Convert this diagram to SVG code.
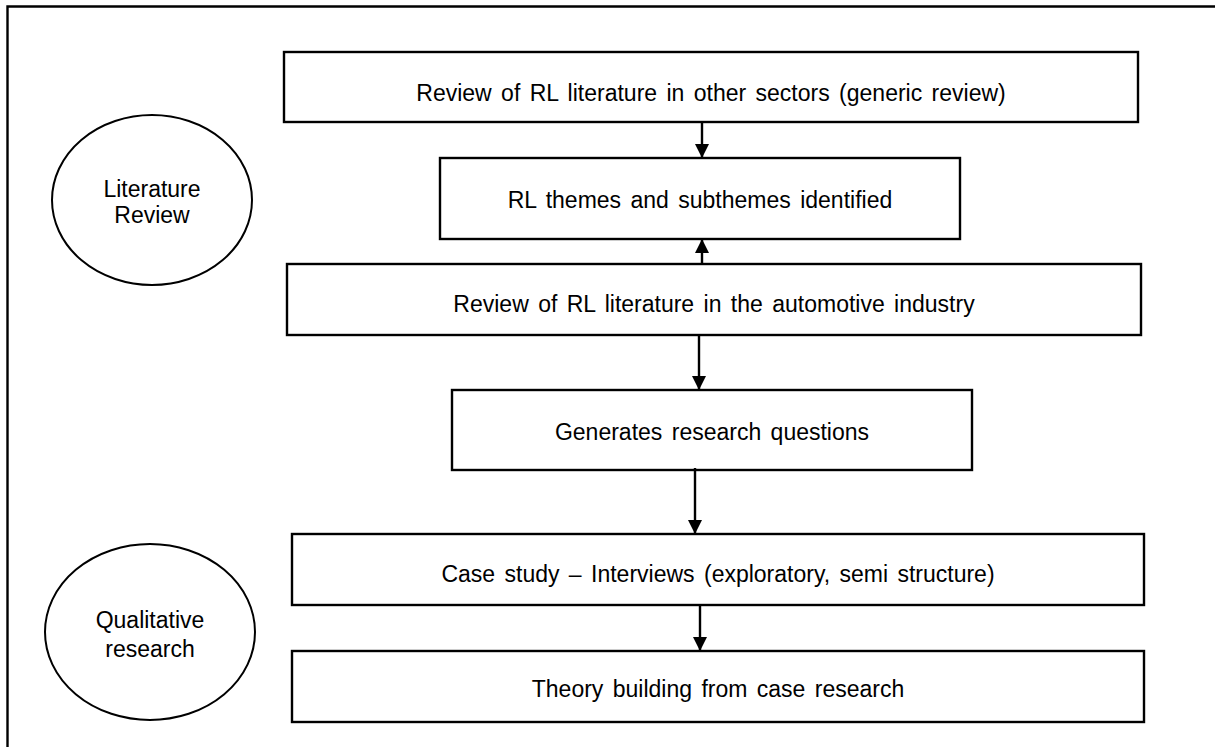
<svg xmlns="http://www.w3.org/2000/svg" width="1215" height="747" viewBox="0 0 1215 747">
<style>
.box{fill:#fff;stroke:#000;stroke-width:2.4}
.ell{fill:#fff;stroke:#000;stroke-width:2}
.t{font-family:"Liberation Sans",Arial,sans-serif;font-size:23px;fill:#000;text-anchor:middle;word-spacing:3px}
.c{stroke:#000;stroke-width:2.4;fill:none}
</style>
<defs>
<marker id="ah" markerWidth="14" markerHeight="14" refX="14" refY="7" orient="auto" markerUnits="userSpaceOnUse">
<path d="M0,0 L14,7 L0,14 Z" fill="#000"/>
</marker>
</defs>
<rect x="0" y="0" width="1215" height="747" fill="#fff"/>
<path d="M7.5,760 L7.5,6.5 L1230,6.5" fill="none" stroke="#000" stroke-width="2.4"/>

<g id="ellipse-literature">
<ellipse class="ell" cx="152" cy="200" rx="100" ry="85"/>
<text class="t" x="152" y="197">Literature</text>
<text class="t" x="152" y="223">Review</text>
</g>
<g id="ellipse-qualitative">
<ellipse class="ell" cx="150" cy="632" rx="105" ry="88"/>
<text class="t" x="150" y="628">Qualitative</text>
<text class="t" x="150" y="657">research</text>
</g>

<g id="node1">
<rect class="box" x="284" y="52" width="854" height="70"/>
<text class="t" x="711" y="101">Review of RL literature in other sectors (generic review)</text>
</g>
<g id="node2">
<rect class="box" x="440" y="158" width="520" height="81"/>
<text class="t" x="700" y="208">RL themes and subthemes identified</text>
</g>
<g id="node3">
<rect class="box" x="287" y="264" width="854" height="71"/>
<text class="t" x="714" y="312">Review of RL literature in the automotive industry</text>
</g>
<g id="node4">
<rect class="box" x="452" y="390" width="520" height="80"/>
<text class="t" x="712" y="440">Generates research questions</text>
</g>
<g id="node5">
<rect class="box" x="292" y="534" width="852" height="71"/>
<text class="t" x="718" y="582">Case study – Interviews (exploratory, semi structure)</text>
</g>
<g id="node6">
<rect class="box" x="292" y="651" width="852" height="71"/>
<text class="t" x="718" y="697">Theory building from case research</text>
</g>

<g id="connectors">
<line class="c" x1="702" y1="123" x2="702" y2="158" marker-end="url(#ah)"/>
<line class="c" x1="702" y1="264" x2="702" y2="239" marker-end="url(#ah)"/>
<line class="c" x1="699" y1="336" x2="699" y2="390" marker-end="url(#ah)"/>
<line class="c" x1="695" y1="468" x2="695" y2="534" marker-end="url(#ah)"/>
<line class="c" x1="700" y1="605" x2="700" y2="651" marker-end="url(#ah)"/>
</g>
</svg>
